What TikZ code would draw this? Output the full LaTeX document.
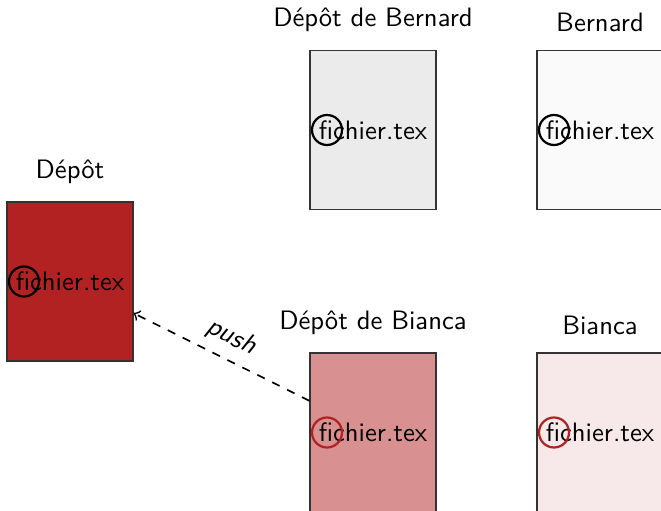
\documentclass[tikz,border=0pt]{standalone}
\usepackage{fontspec}
\definecolor{brick}{RGB}{178,34,34}
\begin{document}
\begin{tikzpicture}[x=0.36pt,y=-0.36pt,font=\sffamily\fontsize{9.6}{11.5}\selectfont,
  filebox/.style={draw=black!80,line width=0.4pt,minimum width=45.36pt,minimum height=57.24pt,inner sep=0pt},
  ftext/.style={inner sep=0pt},
  mark circle/.style={circle,draw=#1,thick,minimum size=10.8pt,inner sep=0pt},
  boxlabel/.style={anchor=south,inner sep=0pt}]
\useasboundingbox (0,0) rectangle (661,511);
\clip (0,0) rectangle (661,511);
% boxes
\node[filebox,fill=brick] (depot) at (70,281.5) {};
\node[filebox,fill=black!8] (brepo) at (373,130) {};
\node[filebox,fill=black!2] (bwork) at (600,130) {};
\node[filebox,fill=brick!50] (crepo) at (373,432.5) {};
\node[filebox,fill=brick!10] (cwork) at (600,432.5) {};
% labels
\node[boxlabel] (ldepot) at (70,184) {Dépôt};
\node[boxlabel] (lbrepo) at (373,32) {Dépôt de Bernard};
\node[boxlabel] (lbwork) at (600,32) {Bernard};
\node[boxlabel] (lcrepo) at (373,335) {Dépôt de Bianca};
\node[boxlabel] (lcwork) at (600,335) {Bianca};
% file texts
\node[ftext] (fdepot) at (depot) {fichier.tex};
\node[ftext] (fbrepo) at (brepo) {fichier.tex};
\node[ftext] (fbwork) at (bwork) {fichier.tex};
\node[ftext] (fcrepo) at (crepo) {fichier.tex};
\node[ftext] (fcwork) at (cwork) {fichier.tex};
% circles
\node[mark circle=black] (cdepot) at (24,281.5) {};
\node[mark circle=black] (cbrepo) at (327,130) {};
\node[mark circle=black] (cbwork) at (554,130) {};
\node[mark circle=brick] (ccrepo) at (327,432.5) {};
\node[mark circle=brick] (ccwork) at (554,432.5) {};
% push
\draw[->,dashed,semithick] (crepo) -- node[sloped,above] {\itshape push} (depot);
\end{tikzpicture}
\end{document}
